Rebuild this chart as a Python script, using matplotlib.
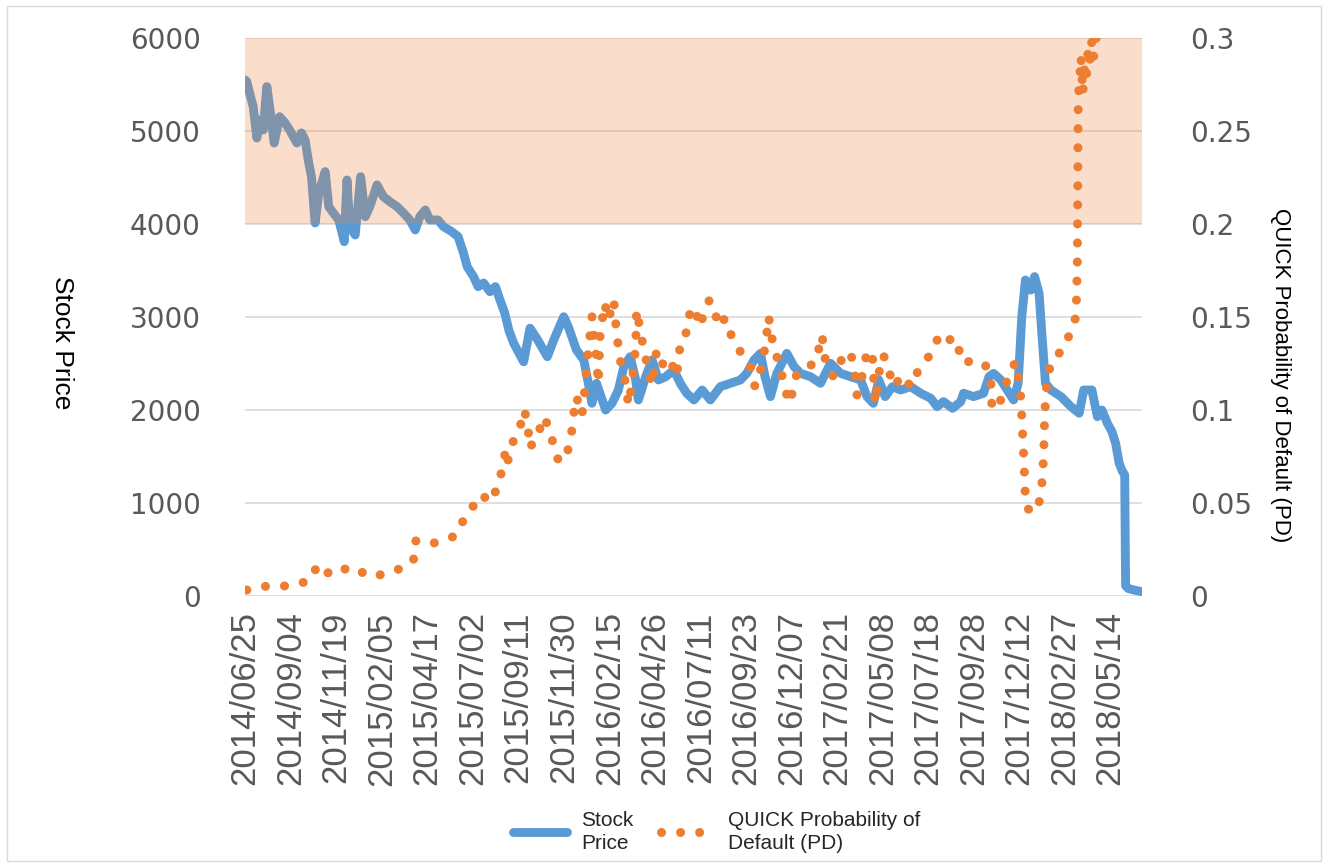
import matplotlib
matplotlib.use('Agg')
import matplotlib.pyplot as plt
from matplotlib.patches import Rectangle
from matplotlib.lines import Line2D

# ---------------- data ----------------
tick_labels = ["2014/06/25", "2014/09/04", "2014/11/19", "2015/02/05", "2015/04/17",
               "2015/07/02", "2015/09/11", "2015/11/30", "2016/02/15", "2016/04/26",
               "2016/07/11", "2016/09/23", "2016/12/07", "2017/02/21", "2017/05/08",
               "2017/07/18", "2017/09/28", "2017/12/12", "2018/02/27", "2018/05/14"]

# trading-day index of each reading
stock_idx = [0, 2, 5, 9, 13, 16, 20, 24, 29, 32, 38, 44, 49, 57, 62, 66, 70, 73, 77, 81,
             88, 92, 97, 103, 109, 112, 115, 121, 127, 132, 137, 145, 152, 159, 167, 174,
             181, 187, 192, 198, 203, 212, 218, 227, 234, 240, 244, 251, 256, 262, 269,
             275, 280, 285, 290, 295, 299, 306, 313, 321, 332, 339, 350, 355, 364, 372,
             377, 381, 386, 396, 403, 410, 416, 423, 429, 432, 440, 447, 454, 462, 471,
             478, 485, 493, 502, 511, 522, 533, 544, 551, 559, 566, 571, 577, 584, 595,
             603, 610, 621, 632, 643, 654, 665, 676, 683, 690, 696, 703, 711, 720, 731,
             742, 753, 760, 767, 777, 786, 789, 800, 811, 817, 822, 830, 837, 844, 849,
             853, 857, 863, 867, 872, 875, 879, 885, 896, 907, 916, 921, 930, 936, 941,
             947, 952, 956, 960, 963, 966, 967, 970, 976, 985]
stock_val = [5550, 5530, 5409, 5262, 4925, 5118, 5011, 5477, 5118, 4871, 5154, 5086, 5011,
             4871, 4979, 4903, 4656, 4509, 4011, 4333, 4563, 4186, 4118, 4043, 3810, 4473,
             3971, 3882, 4509, 4079, 4186, 4420, 4294, 4240, 4186, 4118, 4043, 3936, 4079,
             4151, 4043, 4043, 3971, 3918, 3864, 3685, 3541, 3434, 3326, 3366, 3272, 3326,
             3183, 3050, 2850, 2720, 2645, 2519, 2880, 2760, 2573, 2753, 3003, 2896, 2645,
             2538, 2287, 2072, 2287, 2000, 2072, 2215, 2466, 2573, 2323, 2108, 2358, 2538,
             2323, 2358, 2430, 2287, 2180, 2108, 2215, 2108, 2251, 2287, 2323, 2394, 2538,
             2609, 2358, 2144, 2394, 2609, 2466, 2394, 2358, 2287, 2502, 2394, 2358, 2323,
             2144, 2072, 2323, 2144, 2251, 2215, 2251, 2180, 2126, 2036, 2090, 2018, 2090,
             2180, 2144, 2180, 2358, 2394, 2323, 2215, 2108, 2287, 3003, 3398, 3290, 3434,
             3255, 2825, 2287, 2215, 2144, 2036, 1965, 2215, 2215, 1928, 2000, 1857, 1767,
             1642, 1427, 1350, 1300, 110, 80, 65, 45]

pd_idx = [2, 16, 30, 45, 60, 71, 79, 87, 95, 104, 112, 123, 130, 139, 148, 161, 174, 185,
          187, 194, 203, 218, 231, 240, 245, 253, 260, 267, 273, 278, 282, 286, 288, 291,
          295, 301, 307, 311, 313, 318, 321, 328, 335, 339, 344, 352, 355, 359, 361, 364,
          370, 374, 375, 379, 381, 385, 388, 390, 395, 399, 405, 408, 412, 418, 421, 425,
          429, 430, 434, 438, 443, 447, 452, 460, 467, 474, 478, 484, 485, 493, 500, 504,
          510, 516, 520, 527, 533, 540, 548, 555, 560, 566, 570, 573, 575, 579, 584, 592,
          597, 601, 606, 617, 626, 634, 635, 641, 646, 656, 665, 670, 672, 680, 683, 689,
          691, 692, 696, 701, 707, 712, 722, 731, 736, 745, 753, 760, 767, 777, 784, 789,
          800, 813, 819, 820, 826, 831, 837, 842, 846, 850, 852, 853, 854, 855, 856, 857,
          859, 863, 867, 871, 875, 877, 878, 879, 881, 885, 892, 897, 903, 906, 912, 913,
          914, 915, 916, 918, 920, 922, 924, 926, 928, 930, 932, 934, 936]
pd_val = [0.0032, 0.0050, 0.0054, 0.0054, 0.0068, 0.0082, 0.0158, 0.0113, 0.0136, 0.0158,
          0.0140, 0.0149, 0.0122, 0.0131, 0.0113, 0.0136, 0.0149, 0.0194, 0.0297, 0.0287,
          0.0278, 0.0301, 0.0323, 0.0409, 0.0430, 0.0507, 0.0495, 0.0570, 0.0543, 0.0588,
          0.0677, 0.0776, 0.0713, 0.0776, 0.0839, 0.0892, 0.1000, 0.0892, 0.0794, 0.0848,
          0.0856, 0.0964, 0.0892, 0.0803, 0.0731, 0.0731, 0.0794, 0.0892, 0.0982, 0.1071,
          0.0973, 0.1143, 0.1233, 0.1412, 0.1502, 0.1322, 0.1143, 0.1412, 0.1574, 0.1484,
          0.1591, 0.1412, 0.1269, 0.1143, 0.1027, 0.1143, 0.1340, 0.1538, 0.1430, 0.1322,
          0.1215, 0.1134, 0.1322, 0.1233, 0.1269, 0.1179, 0.1358, 0.1394, 0.1484, 0.1555,
          0.1448, 0.1528, 0.1591, 0.1528, 0.1448, 0.1493, 0.1412, 0.1340, 0.1287, 0.1233,
          0.1125, 0.1215, 0.1305, 0.1412, 0.1502, 0.1376, 0.1287, 0.1143, 0.1036, 0.1090,
          0.1197, 0.1233, 0.1251, 0.1403, 0.1305, 0.1224, 0.1179, 0.1280, 0.1314, 0.1179,
          0.1081, 0.1224, 0.1322, 0.1287, 0.1107, 0.1036, 0.1197, 0.1296, 0.1215, 0.1125,
          0.1188, 0.1125, 0.1188, 0.1242, 0.1305, 0.1376, 0.1340, 0.1394, 0.1322, 0.1251,
          0.1269, 0.1242, 0.1152, 0.1036, 0.1000, 0.1071, 0.1161, 0.1215, 0.1260, 0.1161,
          0.1063, 0.0964, 0.0856, 0.0758, 0.0650, 0.0520, 0.0470, 0.0460, 0.0450, 0.0470,
          0.0600, 0.0749, 0.0946, 0.1054, 0.1170, 0.1251, 0.1287, 0.1332, 0.1367, 0.1430,
          0.1493, 0.1591, 0.1797, 0.2700, 0.2730, 0.2900, 0.2700, 0.2850, 0.2790, 0.2950,
          0.2880, 0.2990, 0.2900, 0.2950, 0.3100]

stock_ticks = [0, 1000, 2000, 3000, 4000, 5000, 6000]
pd_ticks = [0, 0.05, 0.1, 0.15, 0.2, 0.25, 0.3]
pd_tick_labels = ["0", "0.05", "0.1", "0.15", "0.2", "0.25", "0.3"]

BLUE = '#5B9BD5'
ORANGE = '#ED7D31'
GREY = '#595959'
DOT_LW = 6.5
DOTS = (0, (0.01, 2.1))

W, H = 1328, 865
fig = plt.figure(figsize=(W / 100, H / 100), dpi=100)
fig.patches.append(Rectangle((7 / W, 4 / H), (W - 14) / W, (H - 10) / H,
                             transform=fig.transFigure, fill=False,
                             edgecolor='#d9d9d9', lw=1))

L, R, T, B = 245, 1142, 38, 596
ax = fig.add_axes([L / W, 1 - B / H, (R - L) / W, (B - T) / H])
ax.plot(stock_idx, stock_val, color=BLUE, lw=6.4, solid_capstyle='round',
        solid_joinstyle='round', zorder=3)
ax.set_xlim(0, 985)
ax.set_ylim(0, 6000)
ax.set_yticks(stock_ticks)
ax.set_yticklabels([str(v) for v in stock_ticks], fontsize=20, color=GREY,
                   family='DejaVu Sans')
ax.grid(axis='y', color='#d9d9d9', lw=1.2)
ax.set_axisbelow(True)
ax.set_xticks([50 * i for i in range(len(tick_labels))])
ax.set_xticklabels(tick_labels, rotation=90, fontsize=25, color=GREY,
                   family='Liberation Sans')
ax.tick_params(axis='y', length=0, pad=32)
ax.tick_params(axis='x', length=0, pad=11)
for s in ax.spines.values():
    s.set_visible(False)

ax2 = ax.twinx()
ax2.plot(pd_idx, pd_val, color=ORANGE, lw=DOT_LW, linestyle=DOTS,
         dash_capstyle='round', zorder=3)
ax2.set_ylim(0, 0.3)
ax2.set_yticks(pd_ticks)
ax2.set_yticklabels(pd_tick_labels, fontsize=20, color=GREY, family='DejaVu Sans')
ax2.tick_params(axis='y', length=0, pad=35)
for s in ax2.spines.values():
    s.set_visible(False)
ax2.axhspan(0.2, 0.3, color=ORANGE, alpha=0.25, lw=0, zorder=6)

fig.text(62 / W, 1 - 343 / H, "Stock Price", rotation=-90, ha='center', va='center',
         fontsize=19, family='Liberation Sans', color='#000000')
fig.text(1280 / W, 1 - 375 / H, "QUICK Probability of Default (PD)", rotation=-90,
         ha='center', va='center', fontsize=16, family='Liberation Sans', color='#000000')

h1 = Line2D([], [], color=BLUE, lw=6.4, solid_capstyle='round')
h2 = Line2D([], [], color=ORANGE, lw=DOT_LW, linestyle=DOTS, dash_capstyle='round')
leg = fig.legend([h1, h2], ["Stock\nPrice", "QUICK Probability of\nDefault (PD)"],
                 loc='center', bbox_to_anchor=(717 / W, 1 - 832 / H), ncol=2,
                 frameon=False, prop={'family': 'Liberation Sans', 'size': 15},
                 handlelength=2.55, handletextpad=0.7, columnspacing=1.3)
for t in leg.get_texts():
    t.set_linespacing(1.25)
    t.set_color('#262626')

fig.savefig('out.png', dpi=100)
